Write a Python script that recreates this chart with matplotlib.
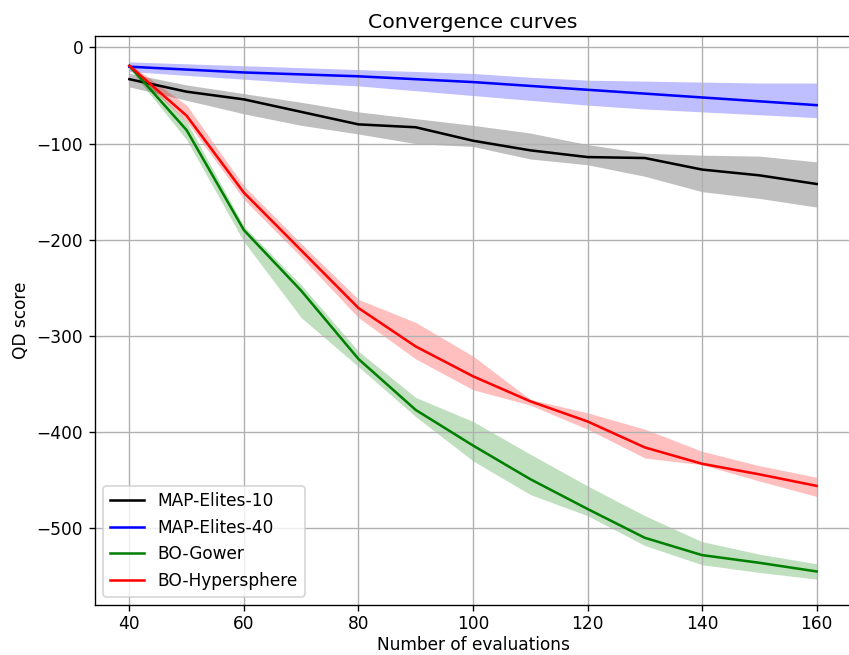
import numpy as np
import matplotlib.pyplot as plt

evals = [40, 50, 60, 70, 80, 90, 100, 110, 120, 130, 140, 150, 160]

# mean QD score and the spread around it for each method
me10_mean = [-33, -46, -54, -67, -80, -83, -97, -107, -114, -115, -127, -133, -142]
me10_hi = [-27, -39, -48, -57, -67, -74, -81, -89, -101, -110, -112, -113, -119]
me10_lo = [-41, -55, -69, -81, -90, -100, -103, -116, -122, -134, -150, -157, -166]

me40_mean = [-20, -23, -26, -28, -30, -33, -36, -40, -44, -48, -52, -56, -60]
me40_hi = [-15, -17, -19, -21, -23, -25, -27, -31, -34, -35, -36, -37, -37]
me40_lo = [-25, -29, -33, -37, -40, -45, -50, -55, -60, -64, -67, -70, -73]

gower_mean = [-19, -86, -190, -253, -324, -377, -414, -449, -480, -510, -528, -536, -545]
gower_hi = [-17, -77, -186, -247, -316, -364, -389, -423, -456, -487, -514, -527, -537]
gower_lo = [-22, -96, -202, -281, -332, -384, -430, -465, -487, -518, -538, -546, -553]

hyper_mean = [-19, -71, -151, -211, -271, -311, -342, -368, -389, -416, -433, -444, -456]
hyper_hi = [-17, -60, -144, -204, -262, -286, -321, -366, -380, -397, -420, -435, -447]
hyper_lo = [-22, -77, -158, -218, -281, -324, -356, -372, -397, -427, -434, -451, -467]

series = [
    ("MAP-Elites-10", "black", me10_mean, me10_lo, me10_hi),
    ("MAP-Elites-40", "blue", me40_mean, me40_lo, me40_hi),
    ("BO-Gower", "green", gower_mean, gower_lo, gower_hi),
    ("BO-Hypersphere", "red", hyper_mean, hyper_lo, hyper_hi),
]

dpi = 122
fig = plt.figure(figsize=(849 / dpi, 655 / dpi), dpi=dpi)
# right spine sits just past the edge of the canvas
ax = fig.add_axes([0.1119, 0.0763, 0.8905, 0.8687])

for name, col, mean, lo, hi in series:
    ax.plot(evals, mean, color=col, label=name)
    ax.fill_between(evals, lo, hi, color=col, alpha=0.25, linewidth=0)

ax.set_xlim(34, 166)
ax.tick_params(axis="x", pad=2.5)
ax.set_title("Convergence curves", pad=5)
ax.set_xlabel("Number of evaluations", labelpad=1.5)
ax.set_ylabel("QD score")
ax.grid()
ax.legend(loc="lower left")

plt.savefig("out.png", dpi=dpi)
